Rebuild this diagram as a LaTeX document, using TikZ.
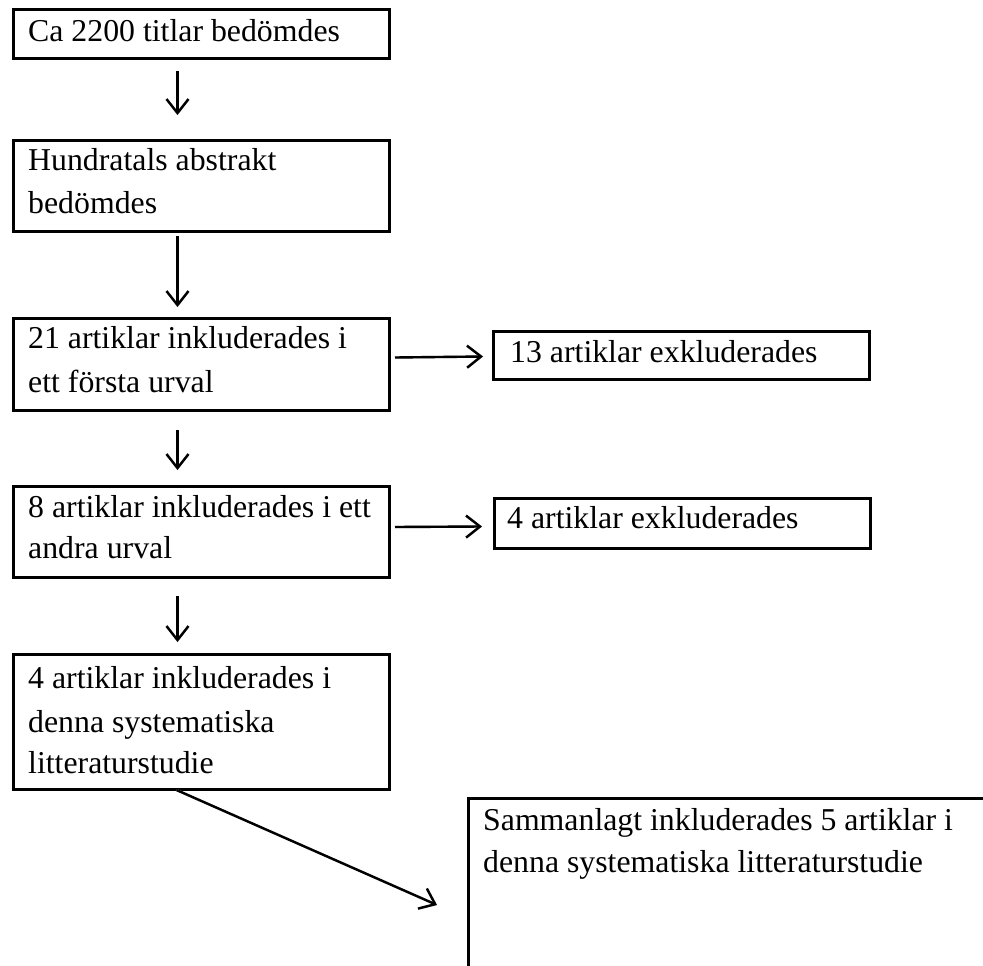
\documentclass[tikz,border=0pt]{standalone}
\usepackage{fontspec}
\setmainfont{Liberation Serif}
\usetikzlibrary{arrows.meta}
\begin{document}
\begin{tikzpicture}[x=1pt,y=1pt,
  box/.style={draw=black, line width=3pt, anchor=north west, inner sep=0pt, minimum width=376pt},
  txt/.style={anchor=base west, inner sep=0pt, font=\fontsize{31.8}{38}\selectfont},
  arr/.style={line width=2.4pt, -{Straight Barb[length=14pt,width=22pt,line width=2.4pt]}},
  shad/.style={line width=2.4pt, draw=black!25, -{Straight Barb[length=14pt,width=22pt,line width=2.4pt]}}]
\useasboundingbox (0,0) rectangle (983,-966);
\clip (0,0) rectangle (983,-966);
% boxes
\node[box, minimum height=49pt] (b1) at (12,-8) {};
\node[box, minimum height=91pt] (b2) at (12,-139) {};
\node[box, minimum height=92pt] (b3) at (12,-317) {};
\node[box, minimum height=91pt] (b4) at (12,-485) {};
\node[box, minimum height=135pt] (b5) at (12,-653) {};
\node[box, minimum height=48pt] (e1) at (492,-330) {};
\node[box, minimum height=50pt] (e2) at (493,-497) {};
\node[box, minimum width=600pt, minimum height=300pt] (b6) at (467,-797) {};
% texts
\node[txt] (t1) at (28,-42) {Ca 2200 titlar bedömdes};
\node[txt] (t2a) at (28,-170) {Hundratals abstrakt};
\node[txt] (t2b) at (28,-213) {bedömdes};
\node[txt] (t3a) at (28,-348) {21 artiklar inkluderades i};
\node[txt] (t3b) at (28,-392) {ett första urval};
\node[txt] (t4a) at (28,-517) {8 artiklar inkluderades i ett};
\node[txt] (t4b) at (28,-558) {andra urval};
\node[txt] (t5a) at (28,-688) {4 artiklar inkluderades i};
\node[txt] (t5b) at (28,-732) {denna systematiska};
\node[txt] (t5c) at (28,-773) {litteraturstudie};
\node[txt] (te1) at (510,-362) {13 artiklar exkluderades};
\node[txt] (te2) at (507,-528) {4 artiklar exkluderades};
\node[txt] (t6a) at (483,-830) {Sammanlagt inkluderades 5 artiklar i};
\node[txt] (t6b) at (483,-872) {denna systematiska litteraturstudie};
% free end of diagonal arrow
\coordinate (dEnd) at (437,-905);
% shadows
\begin{scope}[shift={(1.5,-3)}]
\draw[shad] ([shift={(-24,-11)}]b1.south) -- ([shift={(-24,24)}]b2.north);
\draw[shad] ([shift={(-24,-3)}]b2.south) -- ([shift={(-24,10)}]b3.north);
\draw[shad] ([shift={(-24,-18)}]b3.south) -- ([shift={(-24,15)}]b4.north);
\draw[shad] ([shift={(-24,-17)}]b4.south) -- ([shift={(-24,11)}]b5.north);
\draw[shad] ([shift={(4,7)}]b3.east) -- ([shift={(-9,-1)}]e1.west);
\draw[shad] ([shift={(4,5)}]b4.east) -- ([shift={(-11,-3)}]e2.west);
\draw[shad] ([shift={(-25,1)}]b5.south) -- (dEnd);
\end{scope}
% arrows
\draw[arr] ([shift={(-24,-11)}]b1.south) -- ([shift={(-24,24)}]b2.north);
\draw[arr] ([shift={(-24,-3)}]b2.south) -- ([shift={(-24,10)}]b3.north);
\draw[arr] ([shift={(-24,-18)}]b3.south) -- ([shift={(-24,15)}]b4.north);
\draw[arr] ([shift={(-24,-17)}]b4.south) -- ([shift={(-24,11)}]b5.north);
\draw[arr] ([shift={(4,7)}]b3.east) -- ([shift={(-9,-1)}]e1.west);
\draw[arr] ([shift={(4,5)}]b4.east) -- ([shift={(-11,-3)}]e2.west);
\draw[arr] ([shift={(-25,1)}]b5.south) -- (dEnd);
\end{tikzpicture}
\end{document}
